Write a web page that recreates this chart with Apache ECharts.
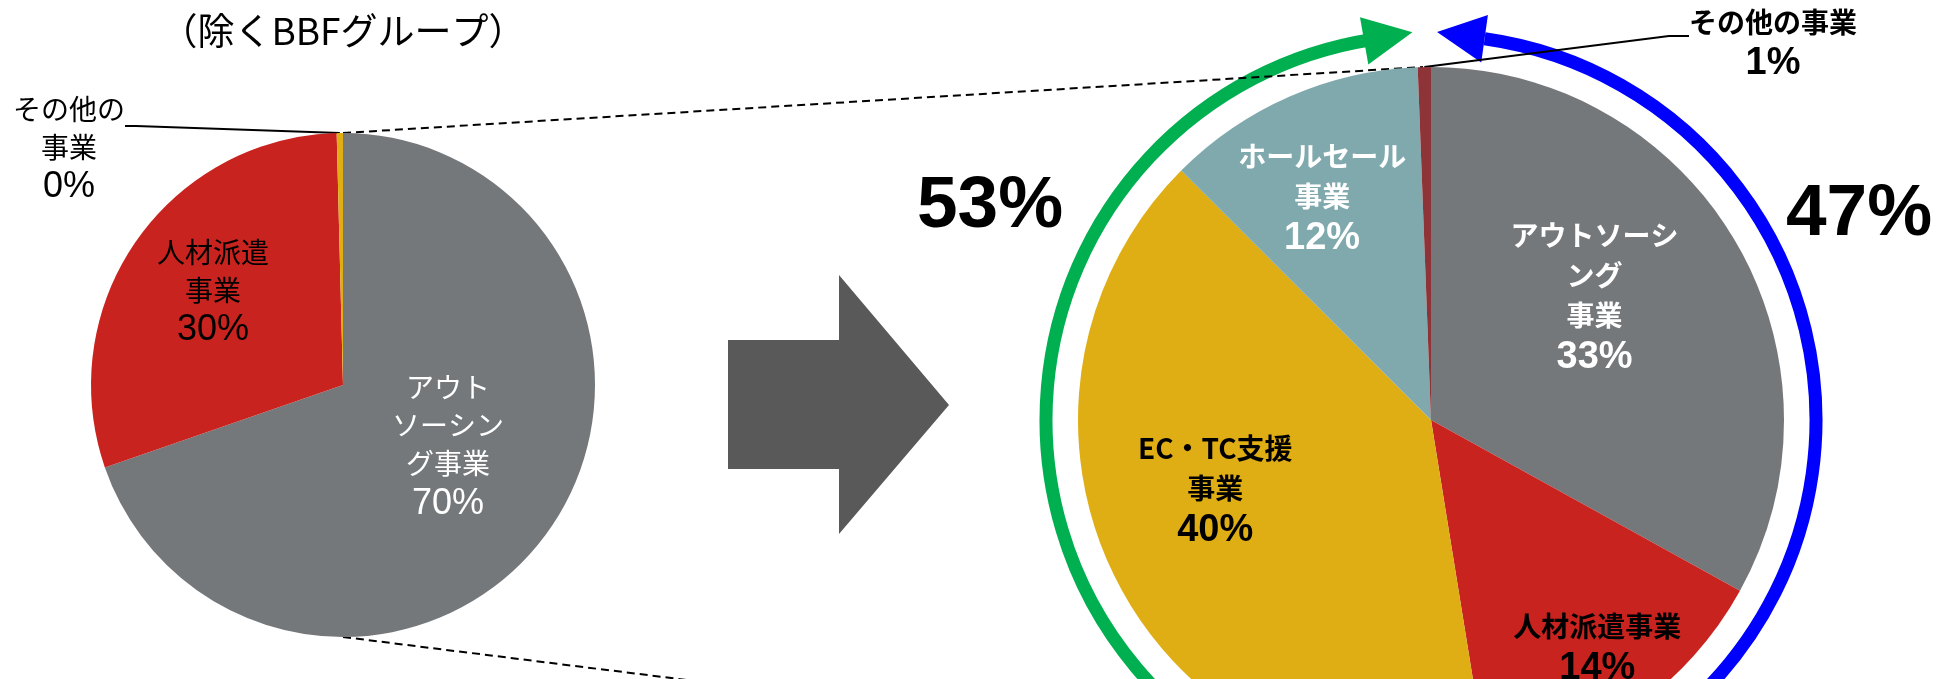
<!DOCTYPE html>
<html><head><meta charset="utf-8">
<script src="https://cdn.jsdelivr.net/npm/echarts@6/dist/echarts.min.js"></script>
<style>html,body{margin:0;padding:0;background:#fff}#c{width:1937px;height:679px}</style>
</head><body><div id="c"></div>
<script>
// ---- data ----
const titleText = '（除くBBFグループ）';
const leftCategories = ['アウトソーシング事業', '人材派遣事業', 'その他の事業'];
const leftLabelNames = ['アウト\nソーシン\nグ事業', '人材派遣\n事業', 'その他の\n事業'];
const leftValues = [69.7, 29.9, 0.4];
const rightCategories = ['アウトソーシング事業', '人材派遣事業', 'EC・TC支援事業', 'ホールセール事業', 'その他の事業'];
const rightLabelNames = ['アウトソーシ\nング\n事業', '人材派遣事業', 'EC・TC支援\n事業', 'ホールセール\n事業', 'その他の事業'];
const rightValues = [33.0, 14.4, 40.0, 11.9, 0.6];
const greenGroup = [2, 3, 4];   // EC・TC + ホールセール + その他
const blueGroup = [0, 1];       // アウトソーシング + 人材派遣

// ---- styles / layout ----
const leftColors = ['#75787B', '#C8231F', '#DFAE14'];
const rightColors = ['#75787B', '#C8231F', '#DFAE14', '#80A9AE', '#8E3438'];
const CJK = '"Noto Sans CJK JP", "Noto Sans", sans-serif';
const LAT = '"Liberation Sans", Arial, sans-serif';
const L = { cx: 343, cy: 385, r: 252 };
const R = { cx: 1431, cy: 420, r: 353 };
const ARC_R = 385;

const total = a => a.reduce((s, v) => s + v, 0);
const rightTotal = total(rightValues);
const pctRound = i => Math.round(rightValues[i] / rightTotal * 100);
const greenTotal = greenGroup.reduce((s, i) => s + pctRound(i), 0);
const blueTotal = blueGroup.reduce((s, i) => s + pctRound(i), 0);

function fmt(names, spacerIdx) {
  return p => (p.dataIndex === spacerIdx ? '{s| }\n' : '') +
    names[p.dataIndex].split('\n').map(s => '{n|' + s + '}').join('\n') +
    '\n{p|' + Math.round(p.percent) + '%}';
}
function rich(color, bold, nLH, pSize, pLH, spacerLH) {
  return {
    s: { fontSize: 4, lineHeight: spacerLH || 0, color: 'rgba(0,0,0,0)' },
    n: { fontFamily: CJK, fontSize: 28, lineHeight: nLH, fontWeight: bold ? 'bold' : 'normal', color: color, align: 'center' },
    p: { fontFamily: LAT, fontSize: pSize, lineHeight: pLH, fontWeight: bold ? 'bold' : 'normal', color: color, align: 'center' }
  };
}

const leftLabelCfg = [
  { position: 'inside', offset: [0, -13], color: '#fff' },
  { position: 'inside', offset: [-24, -19], color: '#000' },
  { position: 'outside', color: '#000', padding: [0, 9, 0, 9], spacer: 82 }
];
const rightLabelCfg = [
  { position: 'inside', offset: [9, -31], color: '#fff' },
  { position: 'inside', offset: [63, 82], color: '#000' },
  { position: 'inside', offset: [-56, -11], color: '#000' },
  { position: 'inside', offset: [-37, -57], color: '#fff' },
  { position: 'outside', color: '#000', padding: [0, 7, 0, 7], spacer: 22 }
];

function buildData(values, cats, names, colors, cfgs, bold, nLH, pSize, pLH, len2) {
  const spacerIdx = cfgs.findIndex(c => c.spacer);
  return values.map((v, i) => {
    const c = cfgs[i];
    return {
      name: cats[i], value: v,
      itemStyle: { color: colors[i] },
      label: Object.assign({ show: true, formatter: fmt(names, spacerIdx), rich: rich(c.color, bold, nLH, pSize, pLH, c.spacer) },
        c.offset ? { offset: c.offset } : {}, c.padding ? { padding: c.padding } : {}, { position: c.position }),
      labelLine: c.position === 'outside'
        ? { show: true, length: 10, length2: len2, smooth: false, lineStyle: { color: '#000', width: 2 } }
        : { show: false }
    };
  });
}
const leftData = buildData(leftValues, leftCategories, leftLabelNames, leftColors, leftLabelCfg, false, 38, 36, 42, 11);
const rightData = buildData(rightValues, rightCategories, rightLabelNames, rightColors, rightLabelCfg, true, 40, 38, 44, 20);

// arc helpers: angle measured clockwise from 12 o'clock, degrees
const rad = d => d * Math.PI / 180;
function pt(c, r, deg) { return [c.cx + r * Math.sin(rad(deg)), c.cy - r * Math.cos(rad(deg))]; }
function arrowHead(c, r, baseDeg, dir, halfW, len) {
  const b = pt(c, r, baseDeg);
  const rd = [Math.sin(rad(baseDeg)), -Math.cos(rad(baseDeg))];
  const tg = [Math.cos(rad(baseDeg)) * dir, Math.sin(rad(baseDeg)) * dir];
  return [[b[0] + rd[0] * halfW, b[1] + rd[1] * halfW],
          [b[0] + tg[0] * len, b[1] + tg[1] * len],
          [b[0] - rd[0] * halfW, b[1] - rd[1] * halfW]];
}
function arcEl(c, r, fromDeg, toDeg, color) {
  return { type: 'arc', z: 0, shape: { cx: c.cx, cy: c.cy, r: r, startAngle: rad(fromDeg - 90), endAngle: rad(toDeg - 90), clockwise: true },
    style: { stroke: color, lineWidth: 13, fill: null } };
}
function textEl(x, y, text, size, weight, family) {
  return { type: 'text', x: x, y: y, z: 5, style: { text: text, fontSize: size, fontWeight: weight, fontFamily: family,
    fill: '#000', align: 'center', verticalAlign: 'middle', textAlign: 'center', textVerticalAlign: 'middle' } };
}

const GREEN = '#00B050', BLUE = '#0000FF';
const graphics = [
  textEl(L.cx, 31, titleText, 37, 'normal', CJK),
  { type: 'polygon', shape: { points: [[728, 340], [839, 340], [839, 275], [949, 405], [839, 534], [839, 469], [728, 469]] }, style: { fill: '#595959' } },
  { type: 'line', z: 1, shape: { x1: L.cx, y1: L.cy - L.r, x2: R.cx - 8, y2: R.cy - R.r }, style: { stroke: '#000', lineWidth: 2, lineDash: [8, 5] } },
  { type: 'line', z: 1, shape: { x1: L.cx, y1: L.cy + L.r, x2: R.cx, y2: R.cy + R.r }, style: { stroke: '#000', lineWidth: 2, lineDash: [8, 5] } },
  arcEl(R, ARC_R, 185, 351, GREEN),
  arcEl(R, ARC_R, 8, 175, BLUE),
  { type: 'polygon', shape: { points: arrowHead(R, ARC_R, -10, 1, 24, 49) }, style: { fill: GREEN } },
  { type: 'polygon', shape: { points: arrowHead(R, ARC_R, 8, -1, 24, 48) }, style: { fill: BLUE } },
  textEl(990, 207, greenTotal + '%', 73, 'bold', LAT),
  textEl(1859, 215, blueTotal + '%', 73, 'bold', LAT)
];

const chart = echarts.init(document.getElementById('c'), null, { renderer: 'canvas' });
chart.setOption({
  animation: false,
  backgroundColor: '#fff',
  graphic: { elements: graphics },
  series: [
    {
      type: 'pie', center: [L.cx, L.cy], radius: [0, L.r], startAngle: 90, clockwise: true,
      avoidLabelOverlap: false, minShowLabelAngle: 0, emphasis: { disabled: true }, silent: true,
      itemStyle: { borderWidth: 0 },
      data: leftData,
      labelLayout: p => p.dataIndex === 2 ? { x: 69, y: 8, align: 'center', verticalAlign: 'top' } : {}
    },
    {
      type: 'pie', center: [R.cx, R.cy], radius: [0, R.r], startAngle: 90, clockwise: true,
      avoidLabelOverlap: false, minShowLabelAngle: 0, emphasis: { disabled: true }, silent: true,
      itemStyle: { borderWidth: 0 },
      data: rightData,
      labelLayout: p => p.dataIndex === 4 ? { x: 1773, y: -20, align: 'center', verticalAlign: 'top' } : {}
    }
  ]
});
</script></body></html>
